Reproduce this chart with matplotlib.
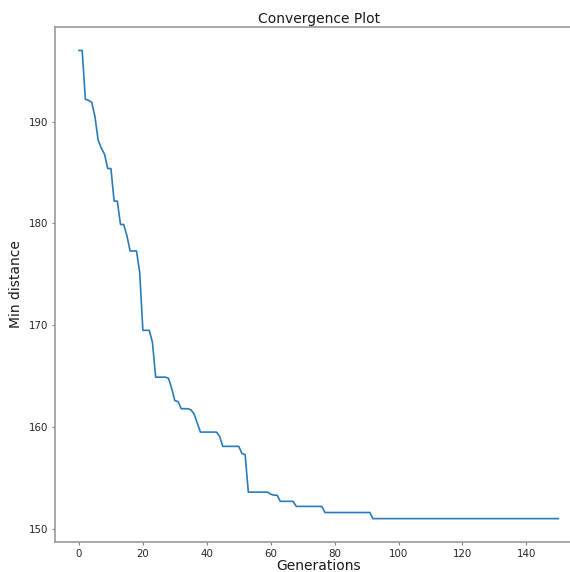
import matplotlib
matplotlib.use("Agg")
import matplotlib.pyplot as plt
from matplotlib.ticker import MultipleLocator

# best (minimum) distance found at each generation
min_distance = [
    197.0, 197.0, 192.2, 192.1, 191.9, 190.5, 188.2, 187.4, 186.8, 185.4,
    185.4, 182.2, 182.2, 179.9, 179.9, 178.8, 177.3, 177.3, 177.3, 175.2,
    169.5, 169.5, 169.5, 168.3, 164.9, 164.9, 164.9, 164.9, 164.8, 163.8,
    162.6, 162.5, 161.8, 161.8, 161.8, 161.7, 161.3, 160.4, 159.5, 159.5,
    159.5, 159.5, 159.5, 159.5, 159.1, 158.1, 158.1, 158.1, 158.1, 158.1,
    158.1, 157.4, 157.3, 153.6, 153.6, 153.6, 153.6, 153.6, 153.6, 153.6,
    153.4, 153.3, 153.3, 152.7, 152.7, 152.7, 152.7, 152.7, 152.2, 152.2,
    152.2, 152.2, 152.2, 152.2, 152.2, 152.2, 152.2, 151.6, 151.6, 151.6,
    151.6, 151.6, 151.6, 151.6, 151.6, 151.6, 151.6, 151.6, 151.6, 151.6,
    151.6, 151.6, 151.0, 151.0, 151.0, 151.0, 151.0, 151.0, 151.0, 151.0,
    151.0, 151.0, 151.0, 151.0, 151.0, 151.0, 151.0, 151.0, 151.0, 151.0,
    151.0, 151.0, 151.0, 151.0, 151.0, 151.0, 151.0, 151.0, 151.0, 151.0,
    151.0, 151.0, 151.0, 151.0, 151.0, 151.0, 151.0, 151.0, 151.0, 151.0,
    151.0, 151.0, 151.0, 151.0, 151.0, 151.0, 151.0, 151.0, 151.0, 151.0,
    151.0, 151.0, 151.0, 151.0, 151.0, 151.0, 151.0, 151.0, 151.0, 151.0,
    151.0,
]
generations = list(range(len(min_distance)))

fig = plt.figure(figsize=(5.70, 5.72), dpi=100)
# the reference is cropped on the right: the right spine falls outside
ax = fig.add_axes([0.0965, 0.0524, 0.925, 0.9003])

ax.plot(generations, min_distance, color="#2b7bba", linewidth=1.2)

ax.xaxis.set_major_locator(MultipleLocator(20))
ax.yaxis.set_major_locator(MultipleLocator(10))
ax.tick_params(labelsize=7.4, colors="0.5", labelcolor="0.15", length=2.5,
               pad=2.5)
for sp in ax.spines.values():
    sp.set_color("0.6")
    sp.set_linewidth(1.2)

ax.set_title("Convergence Plot", fontsize=10, color="0.1", pad=3)
ax.set_xlabel("Generations", fontsize=10, color="0.1", labelpad=0)
ax.set_ylabel("Min distance", fontsize=10, color="0.1", labelpad=4)

fig.savefig("out.png", dpi=100)
